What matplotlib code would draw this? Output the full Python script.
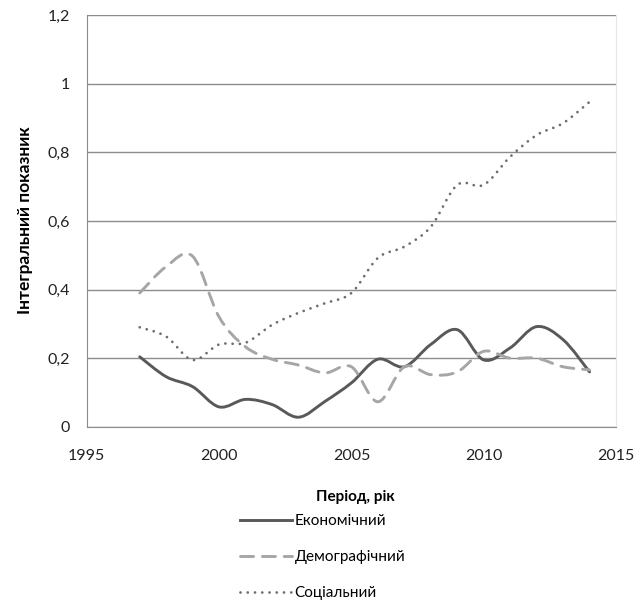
import matplotlib
matplotlib.use("Agg")
import matplotlib.pyplot as plt
from matplotlib.path import Path
from matplotlib.patches import PathPatch
from matplotlib.lines import Line2D
from matplotlib.ticker import FuncFormatter

plt.rcParams['font.family'] = ['Lato', 'DejaVu Sans']

years = [1997, 1998, 1999, 2000, 2001, 2002, 2003, 2004, 2005,
         2006, 2007, 2008, 2009, 2010, 2011, 2012, 2013, 2014]
economic = [0.204, 0.146, 0.117, 0.058, 0.080, 0.065, 0.028, 0.074, 0.128,
            0.197, 0.175, 0.240, 0.283, 0.195, 0.230, 0.292, 0.254, 0.160]
demographic = [0.390, 0.467, 0.497, 0.320, 0.233, 0.197, 0.180, 0.157, 0.175,
               0.073, 0.175, 0.152, 0.160, 0.220, 0.200, 0.200, 0.175, 0.166]
social = [0.290, 0.263, 0.195, 0.240, 0.245, 0.297, 0.332, 0.360, 0.390,
          0.492, 0.525, 0.583, 0.705, 0.705, 0.787, 0.850, 0.885, 0.947]

labels = ['Економічний', 'Демографічний', 'Соціальний']


def smooth_path(xs, ys):
    # Excel-like smoothed line: Catmull-Rom segments drawn as cubic Beziers
    pts = list(zip(xs, ys))
    n = len(pts)
    verts = [pts[0]]
    codes = [Path.MOVETO]
    for i in range(n - 1):
        p0 = pts[max(i - 1, 0)]
        p1 = pts[i]
        p2 = pts[i + 1]
        p3 = pts[min(i + 2, n - 1)]
        c1 = (p1[0] + (p2[0] - p0[0]) / 6, p1[1] + (p2[1] - p0[1]) / 6)
        c2 = (p2[0] - (p3[0] - p1[0]) / 6, p2[1] - (p3[1] - p1[1]) / 6)
        verts += [c1, c2, p2]
        codes += [Path.CURVE4] * 3
    return Path(verts, codes)


fig = plt.figure(figsize=(6.43, 6.02), dpi=100)
ax = fig.add_axes([0.135, 0.291, 0.823, 0.684])

styles = [
    dict(color='#595959', lw=2.1, ls='-'),
    dict(color='#a6a6a6', lw=2.1, ls=(0, (4.5, 3))),
    dict(color='#6e6e6e', lw=2.0, ls=(0, (0.01, 2.6))),
]
handles = []
for ys, st, lab in zip([economic, demographic, social], styles, labels):
    patch = PathPatch(smooth_path(years, ys), fill=False, edgecolor=st['color'],
                      lw=st['lw'], linestyle=st['ls'], capstyle='round',
                      joinstyle='round', zorder=3)
    ax.add_patch(patch)
    handles.append(Line2D([], [], color=st['color'], lw=st['lw'],
                          linestyle=st['ls'], dash_capstyle='round', label=lab))

ax.set_xlim(1995, 2015)
ax.set_ylim(0, 1.2)
ax.set_xticks([1995, 2000, 2005, 2010, 2015])
ax.set_yticks([0, 0.2, 0.4, 0.6, 0.8, 1.0, 1.2])
ax.yaxis.set_major_formatter(FuncFormatter(lambda v, p: f"{v:g}".replace('.', ',')))
ax.grid(axis='y', color='#8c8c8c', lw=1.0)
ax.set_axisbelow(True)
ax.tick_params(length=0, labelsize=11.5, colors='#222222')
ax.tick_params(axis='x', pad=16)
ax.tick_params(axis='y', pad=12)

for side in ['left', 'bottom']:
    ax.spines[side].set_color('#8c8c8c')
ax.spines['top'].set_visible(False)
ax.spines['right'].set_color('#e6e6e6')

fig.text(25 / 643, 1 - 220 / 602, 'Інтегральний показник', rotation=90,
         ha='center', va='center', fontsize=12.5, fontweight='bold')
fig.text(355 / 643, 1 - 497 / 602, 'Період, рік',
         ha='center', va='center', fontsize=11, fontweight='bold')

fig.legend(handles=handles, loc='upper left', bbox_to_anchor=(0.356, 0.164),
           frameon=False, fontsize=11, handlelength=3.45, handletextpad=0.15,
           labelspacing=1.44, borderpad=0.2)

fig.savefig('out.png', dpi=100)
